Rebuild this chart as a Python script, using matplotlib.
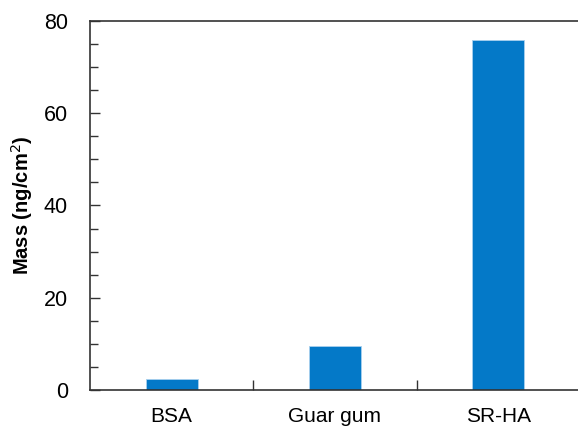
import matplotlib
matplotlib.use("Agg")
import matplotlib.pyplot as plt
from matplotlib.ticker import MultipleLocator, FixedLocator

plt.rcParams['font.family'] = ['Liberation Sans', 'DejaVu Sans']

categories = ["BSA", "Guar gum", "SR-HA"]
mass = [2.4, 9.5, 75.9]

fig = plt.figure(figsize=(5.78, 4.30), dpi=100)
ax = fig.add_axes([90/578, 40/430, 490/578, 369/430])

x = list(range(len(categories)))
ax.bar(x, mass, width=0.32, color="#0479c8", edgecolor="#a8d0ee", linewidth=0.6)

ax.set_xlim(-0.5, 2.5)
ax.set_ylim(0, 80)

ax.yaxis.set_major_locator(MultipleLocator(20))
ax.yaxis.set_minor_locator(MultipleLocator(5))
ax.tick_params(axis='y', which='major', direction='in', length=7, width=1,
               labelsize=15.5, pad=16, color="#333333")
ax.tick_params(axis='y', which='minor', direction='in', length=6, width=1,
               color="#333333")

ax.xaxis.set_major_locator(FixedLocator(x))
ax.set_xticklabels(categories)
ax.xaxis.set_minor_locator(FixedLocator([0.5, 1.5]))
ax.tick_params(axis='x', which='major', length=0, labelsize=15, pad=12)
ax.tick_params(axis='x', which='minor', direction='in', length=7, width=1,
               color="#333333")

for side in ['left', 'bottom', 'top', 'right']:
    ax.spines[side].set_color("#333333")
    ax.spines[side].set_linewidth(1.2)

ax.set_ylabel("Mass (ng/cm$^2$)", fontsize=14.5, fontweight='bold', labelpad=6)

fig.savefig("out.png", dpi=100)
